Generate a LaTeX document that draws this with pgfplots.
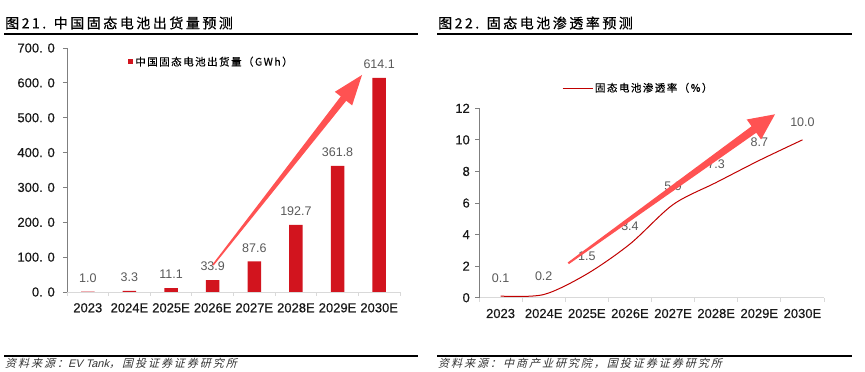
\documentclass[border=0pt]{standalone}
\usepackage{fontspec}
\setmainfont{Liberation Sans}
\newfontfamily\tickfont[FakeBold=0.5]{Liberation Sans}
\newfontfamily\cjktitle[LetterSpace=18,FakeBold=0.6]{Noto Sans CJK SC}
\newfontfamily\cjkleg[LetterSpace=14,FakeBold=0.3]{Noto Sans CJK SC}
\newfontfamily\cjksrc[LetterSpace=18,FakeSlant=0.25]{Noto Sans CJK SC}
\newfontfamily\latsrc[FakeSlant=0.25]{Liberation Sans}
\usepackage{pgfplots}
\pgfplotsset{compat=1.18}
\definecolor{barred}{HTML}{D2141E}
\definecolor{linered}{HTML}{C00000}
\definecolor{arrowred}{HTML}{FF5252}
\definecolor{lblgray}{HTML}{595959}
\definecolor{axgray}{HTML}{D9D9D9}
\definecolor{ydark}{HTML}{7F7F7F}
\pgfplotsset{
  common/.style={
    scale only axis, clip=false,
    /pgf/number format/assume math mode=true,
    xmin=-0.5, xmax=7.5,
    separate axis lines,
    axis x line=bottom, axis y line=left,
    x axis line style={-, draw=axgray, line width=0.8pt},
    y axis line style={-, draw=ydark, line width=0.8pt},
    tick align=outside,
    xtick={0,...,7},
    xticklabels={2023,2024E,2025E,2026E,2027E,2028E,2029E,2030E},
    major x tick style={draw=none},
    minor xtick={-0.5,0.5,...,7.5},
    minor x tick style={draw=axgray, line width=0.8pt},
    minor tick length=4pt,
    major tick length=4pt,
    y tick style={draw=ydark, line width=0.8pt},
    ticklabel style={font=\tickfont\fontsize{13}{15}\selectfont, color=black!90},
    xticklabel style={anchor=north, inner sep=0pt, yshift=-7pt},
    legend style={draw=none, fill=none, inner sep=0pt, font=\cjkleg\fontsize{10.5}{12}\selectfont},
  }
}
\begin{document}
\begin{tikzpicture}
\path[use as bounding box] (0pt,0pt) rectangle (865pt,372pt);
% ---------- left chart ----------
\begin{axis}[common,
  at={(67pt,80pt)}, anchor=south west,
  width=333pt, height=244pt,
  ymin=0, ymax=700,
  ytick={0,100,...,700},
  yticklabels={0. 0,100. 0,200. 0,300. 0,400. 0,500. 0,600. 0,700. 0},
  yticklabel style={anchor=east, inner sep=0pt, xshift=-8pt},
  ybar, bar width=13.5pt,
  legend style={at={(0.182,0.943)}, anchor=west},
]
\addplot[fill=barred, draw=none,
  legend image code/.code={\fill[barred] (0pt,-2.5pt) rectangle (5.5pt,2.5pt);},
  nodes near coords={\pgfmathprintnumber[fixed,fixed zerofill,precision=1]{\pgfplotspointmeta}},
  nodes near coords style={font=\fontsize{12.5}{14}\selectfont, color=lblgray, anchor=south, inner sep=0pt, yshift=9pt},
] coordinates {(0,1.0) (1,3.3) (2,11.1) (3,33.9) (4,87.6) (5,192.7) (6,361.8) (7,614.1)};
\addlegendentry{中国固态电池出货量（GWh）}
\end{axis}
% ---------- right chart ----------
\begin{axis}[common,
  at={(479pt,74.3pt)}, anchor=south west,
  width=345pt, height=189.4pt,
  ymin=0, ymax=12,
  ytick={0,2,...,12},
  yticklabel style={anchor=east, inner sep=0pt, xshift=-5pt},
  legend style={at={(0.24,1.107)}, anchor=west},
]
\addplot[linered, line width=1pt, smooth,
  legend image code/.code={\draw[linered, line width=1pt] (0pt,0pt) -- (30pt,0pt);},
  nodes near coords={\pgfmathprintnumber[fixed,fixed zerofill,precision=1]{\pgfplotspointmeta}},
  nodes near coords style={font=\fontsize{12.5}{14}\selectfont, color=lblgray, anchor=south, inner sep=0pt, yshift=13pt},
] coordinates {(0,0.1) (1,0.2) (2,1.5) (3,3.4) (4,5.9) (5,7.3) (6,8.7) (7,10.0)};
\addlegendentry{固态电池渗透率（\%）}
\end{axis}
% ---------- arrows ----------
\fill[arrowred] (212.4pt,107.5pt) -- (340.75pt,275.56pt) -- (334.84pt,280.19pt) -- (362pt,297pt)
  -- (352.16pt,266.61pt) -- (346.25pt,271.24pt) -- (213.6pt,106.5pt) -- cycle;
\fill[arrowred] (567.7pt,109.5pt) -- (751.56pt,245.74pt) -- (746.7pt,252.5pt) -- (775pt,257.7pt)
  -- (761.1pt,232.5pt) -- (756.24pt,239.26pt) -- (568.9pt,107.9pt) -- cycle;
% ---------- titles and sources ----------
\node[anchor=west, inner sep=0pt] at (5pt,349pt) {\cjktitle\fontsize{14}{16}\selectfont 图21. 中国固态电池出货量预测};
\node[anchor=west, inner sep=0pt] at (438pt,349pt) {\cjktitle\fontsize{14}{16}\selectfont 图22. 固态电池渗透率预测};
\draw[line width=1.6pt] (4pt,338pt) -- (418pt,338pt);
\draw[line width=1.6pt] (437pt,338pt) -- (852pt,338pt);
\draw[line width=1.2pt] (4pt,16pt) -- (418pt,16pt);
\draw[line width=1.2pt] (437pt,16pt) -- (852pt,16pt);
\node[anchor=west, inner sep=0pt, color=black!80] at (5pt,8.5pt) {\cjksrc\fontsize{11}{12}\selectfont 资料来源：{\latsrc EV Tank}，国投证券证券研究所};
\node[anchor=west, inner sep=0pt, color=black!80] at (438pt,8.5pt) {\cjksrc\fontsize{11}{12}\selectfont 资料来源：中商产业研究院，国投证券证券研究所};
\end{tikzpicture}
\end{document}
